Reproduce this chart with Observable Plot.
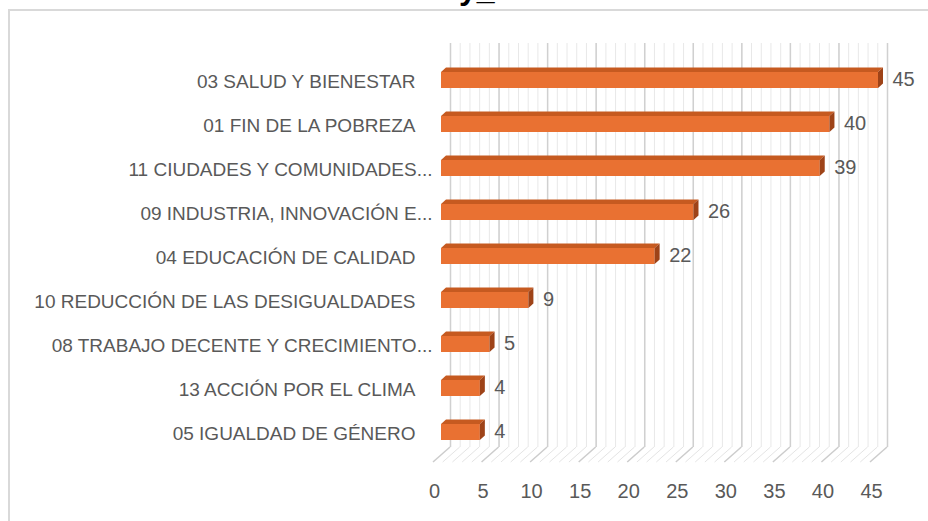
<!DOCTYPE html>
<html>
<head>
<meta charset="utf-8">
<script src="https://cdn.jsdelivr.net/npm/d3@7"></script>
<script src="https://cdn.jsdelivr.net/npm/@observablehq/plot@0.6"></script>
<style>
html,body{margin:0;padding:0;background:#fff;overflow:hidden}
#wrap{position:relative;width:928px;height:521px;overflow:hidden;background:#fff}
#frame{position:absolute;left:8px;top:9px;width:960px;height:560px;border:2px solid #d9d9d9;box-sizing:border-box}
#title{position:absolute;top:-28.5px;left:437px;font:bold 32px "Liberation Sans",Arial,sans-serif;line-height:32px;color:#000;white-space:pre}
#chart{position:absolute;left:0;top:0}
</style>
</head>
<body>
<div id="wrap">
  <div id="frame"></div>
  <div id="title">Ay_</div>
  <div id="chart"></div>
</div>
<script>
const categories = [
  "03 SALUD Y BIENESTAR",
  "01 FIN DE LA POBREZA",
  "11 CIUDADES Y COMUNIDADES...",
  "09 INDUSTRIA, INNOVACIÓN E...",
  "04 EDUCACIÓN DE CALIDAD",
  "10 REDUCCIÓN DE LAS DESIGUALDADES",
  "08 TRABAJO DECENTE Y CRECIMIENTO...",
  "13 ACCIÓN POR EL CLIMA",
  "05 IGUALDAD DE GÉNERO"
];
const values = [45, 40, 39, 26, 22, 9, 5, 4, 4];
const ticks = [0, 5, 10, 15, 20, 25, 30, 35, 40, 45];

const data = categories.map((c, i) => ({cat: c, value: values[i]}));
const minor = d3.range(0, 46);

const FRONT = "#E97132", TOP = "#C65A20", SIDE = "#9E4318";
const DX = 5, DY = 4.5;
const FLOOR_BACK = 447, FLOOR_FRONT = 462;

function floorMark(index, scales) {
  const x = scales.x;
  const g = d3.create("svg:g");
  for (const v of minor) {
    const major = v % 5 === 0;
    g.append("line")
      .attr("x1", x(v) + 9).attr("y1", FLOOR_BACK)
      .attr("x2", x(v) - 8).attr("y2", FLOOR_FRONT)
      .attr("stroke", major ? "#cccccc" : "#e4e4e4")
      .attr("stroke-width", major ? 1.5 : 1);
  }
  return g.node();
}

function facesMark(index, scales) {
  const {x, y} = scales;
  const step = y(categories[1]) - y(categories[0]);
  const inset = 14;
  const g = d3.create("svg:g");
  for (const d of data) {
    const x0 = x(0), x1 = x(d.value);
    const t = y(d.cat) + inset, b = y(d.cat) + step - inset;
    g.append("polygon")
      .attr("points", [[x0, t], [x1, t], [x1 + DX, t - DY], [x0 + DX, t - DY]].map(p => p.join(",")).join(" "))
      .attr("fill", TOP);
    g.append("polygon")
      .attr("points", [[x1, t], [x1 + DX, t - DY], [x1 + DX, b - DY], [x1, b]].map(p => p.join(",")).join(" "))
      .attr("fill", SIDE);
  }
  return g.node();
}

const isTrunc = d => d.cat.endsWith("...");

const chart = Plot.plot({
  width: 928,
  height: 521,
  marginLeft: 441,
  marginRight: 50,
  marginTop: 43,
  marginBottom: 74,
  x: {domain: [0, 45], range: [441, 878]},
  y: {domain: categories, range: [54.1, 457.4], padding: 0, axis: null},
  style: {fontFamily: "'Liberation Sans', Arial, sans-serif", fontSize: "19px", color: "#595959", background: "transparent", overflow: "visible"},
  marks: [
    Plot.ruleX(minor, {stroke: "#e8e8e8", strokeWidth: 1, dx: 9}),
    Plot.ruleX(ticks, {stroke: "#d0d0d0", strokeWidth: 1.5, dx: 9}),
    floorMark,
    Plot.barX(data, {x: "value", y: "cat", fill: FRONT, insetTop: 14, insetBottom: 14}),
    facesMark,
    Plot.text(data, {x: "value", y: "cat", text: d => String(d.value), textAnchor: "start", dx: 14, dy: -1, fill: "#595959", fontSize: 20, letterSpacing: 1}),
    Plot.text(data.filter(isTrunc), {y: "cat", text: "cat", frameAnchor: "left", textAnchor: "end", dx: -9, dy: 1.5, fill: "#595959", fontSize: 19}),
    Plot.text(data.filter(d => !isTrunc(d)), {y: "cat", text: "cat", frameAnchor: "left", textAnchor: "end", dx: -26, dy: 1.5, fill: "#595959", fontSize: 19}),
    Plot.axisX(ticks, {tickSize: 0, tickPadding: 36, dx: -7, fontSize: 20, letterSpacing: 1, fill: "#595959", label: null})
  ]
});
document.getElementById("chart").appendChild(chart);
</script>
</body>
</html>
